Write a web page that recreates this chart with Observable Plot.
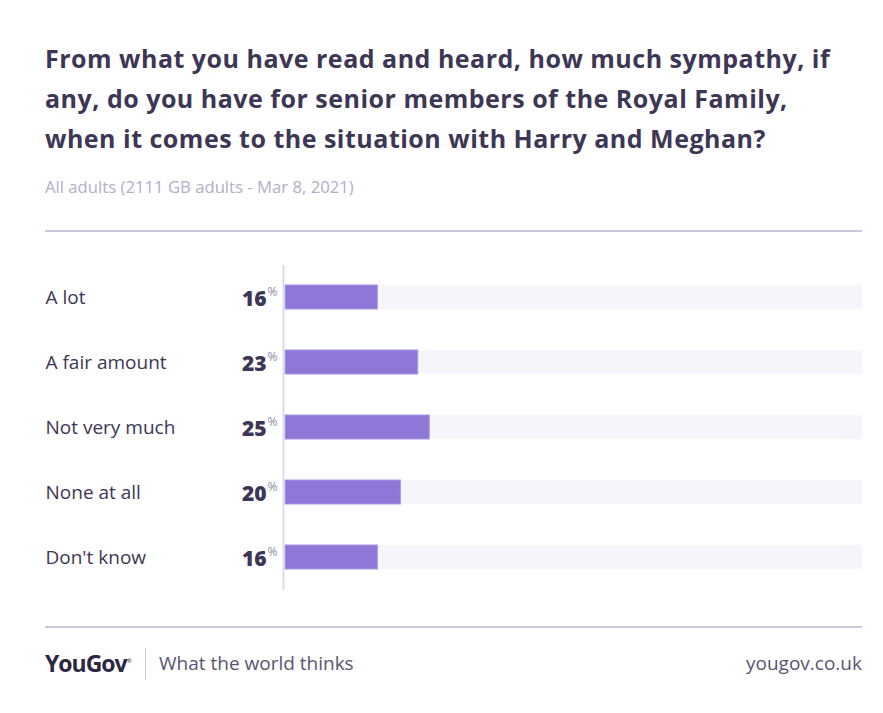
<!DOCTYPE html>
<html><head><meta charset="utf-8">
<script src="https://cdn.jsdelivr.net/npm/d3@7"></script>
<script src="https://cdn.jsdelivr.net/npm/@observablehq/plot@0.6"></script>
<style>
body{margin:0;background:#fff;font-family:"Open Sans",Lato,sans-serif;}
#page{position:relative;width:883px;height:713px;overflow:hidden;}
.t{position:absolute;left:45px;color:#3d3654;font-weight:700;font-size:25px;line-height:40px;white-space:nowrap;letter-spacing:0.5px;}
#sub{position:absolute;left:45px;top:175px;font-size:16.7px;color:#b3aec9;}
.hr{position:absolute;left:45px;width:817px;height:2px;background:#c9c5da;}
#chart{position:absolute;left:45px;top:250px;}
#logo{position:absolute;left:45px;top:647px;font-weight:700;font-size:23px;color:#2d2740;letter-spacing:-1px;}
#sep{position:absolute;left:145px;top:648px;width:1px;height:32px;background:#d0cce0;}
#tag{position:absolute;left:159px;top:650px;font-size:19px;color:#5a5470;}
#url{position:absolute;right:21px;top:650px;font-size:19px;color:#5a5470;}
</style></head>
<body><div id="page">
<div class="t" style="top:38px">From what you have read and heard, how much sympathy, if</div>
<div class="t" style="top:78px">any, do you have for senior members of the Royal Family,</div>
<div class="t" style="top:118px">when it comes to the situation with Harry and Meghan?</div>
<div id="sub">All adults (2111 GB adults - Mar 8, 2021)</div>
<div class="hr" style="top:230px"></div>
<div id="chart"></div>
<div class="hr" style="top:626px"></div>
<div id="logo">YouGov<sup style="font-size:6px;font-weight:400">®</sup></div>
<div id="sep"></div>
<div id="tag">What the world thinks</div>
<div id="url">yougov.co.uk</div>
</div>
<script>
const categories = ["A lot","A fair amount","Not very much","None at all","Don't know"];
const values = [16,23,25,20,16];
const data = categories.map((c,i)=>({category:c,value:values[i]}));
const plot = Plot.plot({
  width: 817, height: 355,
  marginLeft: 240, marginRight: 0, marginTop: 15, marginBottom: 15,
  x: {domain:[0,100], axis:null},
  y: {domain: categories, axis:null, paddingInner:0.63, paddingOuter:0.3, align:0.5},
  style:{fontFamily:"'Open Sans', Lato, sans-serif", background:"transparent"},
  marks: [
    Plot.barX(data, {y:"category", x1:0, x2:100, fill:"#f6f5fb"}),
    Plot.barX(data, {y:"category", x1:0, x2:"value", fill:"#8e77d6", stroke:"#a896e2", strokeWidth:1}),
    Plot.ruleX([0], {stroke:"#dedbee", strokeWidth:2, dx:-2}),
    Plot.text(data, {y:"category", x:0, text:"category", dx:-240, textAnchor:"start", fontSize:19, fill:"#3d3654"}),
    Plot.text(data, {y:"category", x:0, text:d=>String(d.value), dx:-19, dy:2, textAnchor:"end", fontSize:21, fontWeight:800, fill:"#3d3654"}),
    Plot.text(data, {y:"category", x:0, text:d=>"%", dx:-18, dy:-5, textAnchor:"start", fontSize:12, fill:"#8f8aa5"})
  ]
});
document.getElementById("chart").appendChild(plot);
</script>
</body></html>
